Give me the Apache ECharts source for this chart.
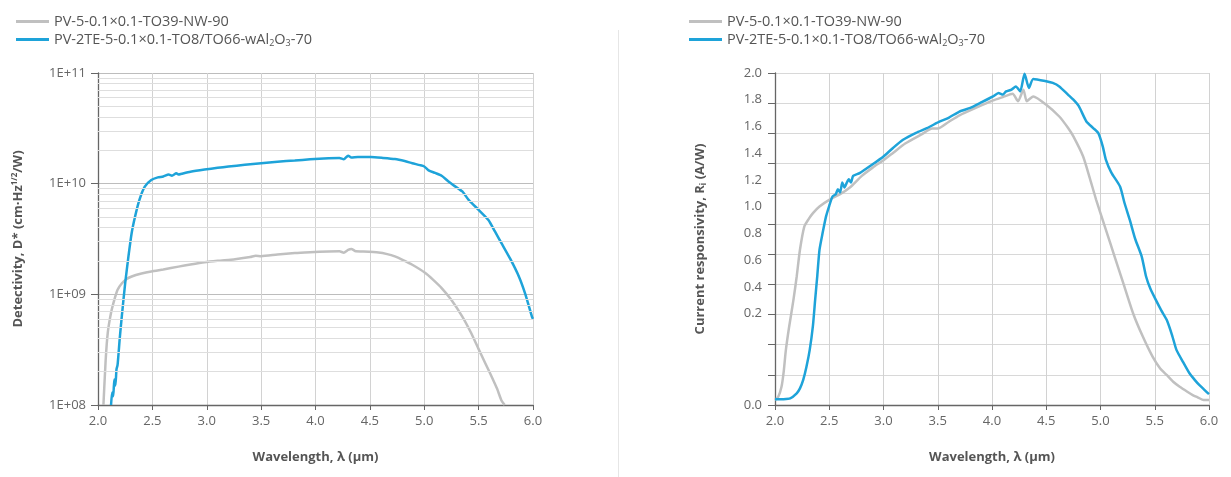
<!DOCTYPE html>
<html><head><meta charset="utf-8">
<script src="https://cdn.jsdelivr.net/npm/echarts@6/dist/echarts.min.js"></script>
<style>html,body{margin:0;padding:0;background:#fff}#c{width:1231px;height:477px}</style>
</head><body><div id="c"></div>
<script>
const nameGray = 'PV-5-0.1×0.1-TO39-NW-90';
const nameBlue = 'PV-2TE-5-0.1×0.1-TO8/TO66-wAl2O3-70';

const xTicks = [2.0, 2.5, 3.0, 3.5, 4.0, 4.5, 5.0, 5.5, 6.0];

// Left chart: detectivity D* (cm·Hz^1/2/W)
const detGrayWl = [2.05,2.07,2.09,2.12,2.15,2.18,2.22,2.26,2.31,2.40,2.49,2.60,2.74,2.85,2.98,3.10,3.26,3.40,3.45,3.50,3.65,3.81,3.95,4.12,4.22,4.26,4.30,4.33,4.37,4.43,4.58,4.66,4.73,4.80,4.89,5.01,5.08,5.16,5.25,5.35,5.43,5.50,5.56,5.62,5.67,5.71,5.74];
const detGrayVal = [1.0e8,2.5e8,4.5e8,6.8e8,8.9e8,1.1e9,1.26e9,1.37e9,1.45e9,1.54e9,1.61e9,1.68e9,1.78e9,1.86e9,1.95e9,2.01e9,2.08e9,2.17e9,2.23e9,2.21e9,2.29e9,2.36e9,2.40e9,2.44e9,2.45e9,2.38e9,2.52e9,2.57e9,2.45e9,2.44e9,2.39e9,2.31e9,2.2e9,2.05e9,1.85e9,1.56e9,1.36e9,1.14e9,8.9e8,6.3e8,4.5e8,3.2e8,2.4e8,1.8e8,1.4e8,1.1e8,1.0e8];
const detBlueWl = [2.12,2.13,2.14,2.15,2.16,2.17,2.18,2.20,2.22,2.25,2.28,2.31,2.34,2.38,2.43,2.49,2.55,2.60,2.65,2.68,2.72,2.74,2.77,2.85,2.98,3.10,3.20,3.35,3.50,3.65,3.81,3.95,4.12,4.22,4.26,4.30,4.33,4.39,4.51,4.62,4.73,4.82,4.89,4.96,5.00,5.04,5.10,5.16,5.22,5.28,5.35,5.41,5.50,5.59,5.65,5.71,5.79,5.87,5.93,5.99,6.00];
const detBlueVal = [1.0e8,1.3e8,1.2e8,1.7e8,1.5e8,2.1e8,2.3e8,4.0e8,6.5e8,1.26e9,2.2e9,3.6e9,5.0e9,7.1e9,9.4e9,1.08e10,1.14e10,1.16e10,1.21e10,1.18e10,1.24e10,1.21e10,1.23e10,1.28e10,1.34e10,1.39e10,1.43e10,1.48e10,1.53e10,1.58e10,1.62e10,1.66e10,1.70e10,1.71e10,1.66e10,1.79e10,1.72e10,1.74e10,1.74e10,1.71e10,1.67e10,1.60e10,1.53e10,1.47e10,1.43e10,1.32e10,1.25e10,1.18e10,1.05e10,9.5e9,8.5e9,7.1e9,5.8e9,4.7e9,3.7e9,2.9e9,2.1e9,1.45e9,1.0e9,6.3e8,6.0e8];
const detMinorGrid = [2e8,3e8,4e8,5e8,6e8,7e8,8e8,9e8,2e9,3e9,4e9,5e9,6e9,7e9,8e9,9e9,2e10,3e10,4e10,5e10,6e10,7e10,8e10,9e10];
const detTickLabels = {8:'1E+08', 9:'1E+09', 10:'1E+10', 11:'1E+11'};

// Right chart: current responsivity R_i (A/W)
const resGrayWl = [2.00,2.03,2.06,2.08,2.10,2.13,2.17,2.20,2.23,2.27,2.31,2.35,2.41,2.50,2.60,2.69,2.80,2.90,3.00,3.09,3.20,3.35,3.45,3.50,3.60,3.70,3.85,4.01,4.10,4.19,4.24,4.29,4.32,4.38,4.50,4.62,4.70,4.75,4.84,4.90,4.96,5.05,5.13,5.21,5.30,5.39,5.48,5.55,5.61,5.67,5.73,5.80,5.85,5.90,5.95,6.00];
const resGrayVal = [0.03,0.05,0.11,0.20,0.33,0.47,0.633,0.774,0.935,1.075,1.12,1.156,1.196,1.236,1.27,1.31,1.38,1.43,1.475,1.52,1.575,1.63,1.665,1.665,1.705,1.745,1.79,1.835,1.855,1.875,1.83,1.899,1.83,1.859,1.809,1.738,1.67,1.618,1.497,1.37,1.236,1.055,0.894,0.734,0.553,0.412,0.291,0.22,0.181,0.14,0.11,0.08,0.06,0.045,0.03,0.03];
const resBlueWl = [2.00,2.07,2.14,2.20,2.23,2.26,2.29,2.32,2.35,2.37,2.39,2.41,2.44,2.47,2.50,2.53,2.56,2.58,2.60,2.62,2.64,2.66,2.68,2.70,2.72,2.78,2.90,3.00,3.09,3.18,3.30,3.40,3.52,3.60,3.70,3.80,3.89,4.01,4.06,4.10,4.13,4.18,4.22,4.26,4.30,4.34,4.38,4.50,4.56,4.62,4.70,4.75,4.80,4.87,4.93,4.98,5.02,5.05,5.10,5.18,5.22,5.27,5.32,5.38,5.42,5.46,5.51,5.56,5.61,5.66,5.70,5.76,5.82,5.87,5.91,5.96,6.00];
const resBlueVal = [0.034,0.035,0.04,0.07,0.10,0.151,0.23,0.332,0.48,0.633,0.78,0.935,1.04,1.135,1.20,1.256,1.27,1.30,1.28,1.34,1.31,1.337,1.36,1.34,1.38,1.397,1.45,1.497,1.55,1.598,1.64,1.668,1.708,1.73,1.768,1.79,1.819,1.859,1.88,1.87,1.889,1.90,1.919,1.889,1.996,1.91,1.964,1.95,1.94,1.919,1.87,1.839,1.80,1.708,1.67,1.638,1.56,1.477,1.40,1.316,1.22,1.115,1.00,0.894,0.774,0.70,0.633,0.57,0.513,0.42,0.332,0.26,0.191,0.15,0.121,0.09,0.065];
const resTickValues = [0,2/11,4/11,6/11,8/11,10/11,12/11,14/11,16/11,18/11,20/11,2];
const resLabelTexts = ['2.0','1.8','1.6','1.4','1.2','1.0','0.8','0.6','0.4','0.2','0.0'];
const resLabelValues = [2.0,1.839,1.678,1.517,1.356,1.195,1.034,0.873,0.712,0.551,0];

const pairs = (xs, ys) => xs.map((x, i) => [x, ys[i]]);

const GRAY = '#c0c0c0', BLUE = '#1ea3d9';
const FONT = '"Open Sans", sans-serif';

function xAxisCfg(gi) {
  return {
    gridIndex: gi, type: 'value', min: 2, max: 6, interval: 0.5,
    axisLine: { lineStyle: { color: '#666', width: 1.3 } },
    axisTick: { show: true, length: 5, lineStyle: { color: '#666' } },
    axisLabel: { color: '#666', fontSize: 13, fontFamily: FONT, margin: 10, formatter: v => v.toFixed(1) },
    splitLine: { show: true, lineStyle: { color: '#d2d2d2', width: 1 } },
    name: 'Wavelength, λ (µm)', nameLocation: 'middle', nameGap: 46,
    nameTextStyle: { color: '#555', fontSize: 13, fontWeight: 'bold', fontFamily: FONT }
  };
}

const chart = echarts.init(document.getElementById('c'), null, { renderer: 'canvas' });

const legendRich = {
  a: { fontSize: 14.5, color: '#555', fontFamily: FONT },
  s: { fontSize: 9, color: '#555', fontFamily: FONT, padding: [8, 0, 0, 0] }
};
const legendFmt = n => n === nameBlue
  ? '{a|PV-2TE-5-0.1×0.1-TO8/TO66-wAl}{s|2}{a|O}{s|3}{a|-70}'
  : '{a|' + n + '}';

function legendCfg(left) {
  return {
    left: left, top: 9, orient: 'vertical', itemGap: 3,
    icon: 'rect', itemWidth: 33, itemHeight: 3,
    data: [nameGray, nameBlue],
    formatter: legendFmt,
    textStyle: { rich: legendRich, fontSize: 14.5, color: '#555', fontFamily: FONT }
  };
}

const lineStyleFor = c => ({ color: c, width: 2.5 });

chart.setOption({
  animation: false,
  backgroundColor: '#fff',
  textStyle: { fontFamily: FONT },
  legend: [legendCfg(11), legendCfg(684)],
  grid: [
    { left: 98, right: 1231 - 533, top: 73, bottom: 477 - 405 },
    { left: 775, right: 1231 - 1209, top: 73, bottom: 477 - 405 }
  ],
  xAxis: [xAxisCfg(0), xAxisCfg(1)],
  yAxis: [
    {
      gridIndex: 0, type: 'log', logBase: 10, min: 1e8, max: 1e11,
      axisLine: { show: true, lineStyle: { color: '#666', width: 1.3 } },
      axisTick: { show: true, length: 7, lineStyle: { color: '#666' } },
      axisLabel: { color: '#666', fontSize: 13, fontFamily: FONT, margin: 12,
        formatter: v => detTickLabels[Math.round(Math.log10(v))] || '' },
      splitLine: { show: true, lineStyle: { color: '#bdbdbd', width: 1 } },
      name: '{b|Detectivity, D* (cm·Hz}{p|1/2}{b|/W)}', nameLocation: 'middle', nameGap: 72,
      nameTextStyle: { rich: {
        b: { fontSize: 13, fontWeight: 'bold', color: '#555', fontFamily: FONT },
        p: { fontSize: 8, fontWeight: 'bold', color: '#555', fontFamily: FONT, padding: [0, 0, 7, 0] }
      } }
    },
    {
      gridIndex: 1, type: 'value', min: 0, max: 2,
      axisLine: { show: true, lineStyle: { color: '#666', width: 1.3 } },
      axisTick: { show: true, length: 7, lineStyle: { color: '#666' }, customValues: resTickValues },
      axisLabel: { color: '#666', fontSize: 13, fontFamily: FONT, margin: 13,
        customValues: resLabelValues,
        formatter: v => {
          let best = 0, bd = Infinity;
          resLabelValues.forEach((p, i) => { const d = Math.abs(p - v); if (d < bd) { bd = d; best = i; } });
          return resLabelTexts[best];
        } },
      splitLine: { show: true, lineStyle: { color: '#d8d8d8', width: 1 } },
      name: '{b|Current responsivity, R}{s|i}{b| (A/W)}', nameLocation: 'middle', nameGap: 67,
      nameTextStyle: { rich: {
        b: { fontSize: 13, fontWeight: 'bold', color: '#555', fontFamily: FONT },
        s: { fontSize: 8, fontWeight: 'bold', color: '#555', fontFamily: FONT, padding: [7, 0, 0, 0] }
      } }
    }
  ],
  graphic: [
    { type: 'line', shape: { x1: 618.5, y1: 30, x2: 618.5, y2: 477 }, style: { stroke: '#e6e6e6', lineWidth: 1 }, silent: true }
  ],
  series: [
    {
      name: '__minor', type: 'line', xAxisIndex: 0, yAxisIndex: 0, data: [], z: 1, silent: true,
      markLine: {
        silent: true, symbol: ['none', 'none'], label: { show: false },
        lineStyle: { color: '#dedede', width: 1, type: 'solid' },
        emphasis: { disabled: true },
        data: detMinorGrid.map(v => ({ yAxis: v }))
      }
    },
    { name: nameGray, type: 'line', xAxisIndex: 0, yAxisIndex: 0, data: pairs(detGrayWl, detGrayVal),
      showSymbol: false, smooth: 0.2, lineStyle: lineStyleFor(GRAY), itemStyle: { color: GRAY }, clip: true, z: 3 },
    { name: nameBlue, type: 'line', xAxisIndex: 0, yAxisIndex: 0, data: pairs(detBlueWl, detBlueVal),
      showSymbol: false, smooth: 0.2, lineStyle: lineStyleFor(BLUE), itemStyle: { color: BLUE }, clip: true, z: 4 },
    { name: nameGray, type: 'line', xAxisIndex: 1, yAxisIndex: 1, data: pairs(resGrayWl, resGrayVal),
      showSymbol: false, smooth: 0.2, lineStyle: lineStyleFor(GRAY), itemStyle: { color: GRAY }, clip: true, z: 3 },
    { name: nameBlue, type: 'line', xAxisIndex: 1, yAxisIndex: 1, data: pairs(resBlueWl, resBlueVal),
      showSymbol: false, smooth: 0.2, lineStyle: lineStyleFor(BLUE), itemStyle: { color: BLUE }, clip: true, z: 4 }
  ]
});
</script>
</body></html>
